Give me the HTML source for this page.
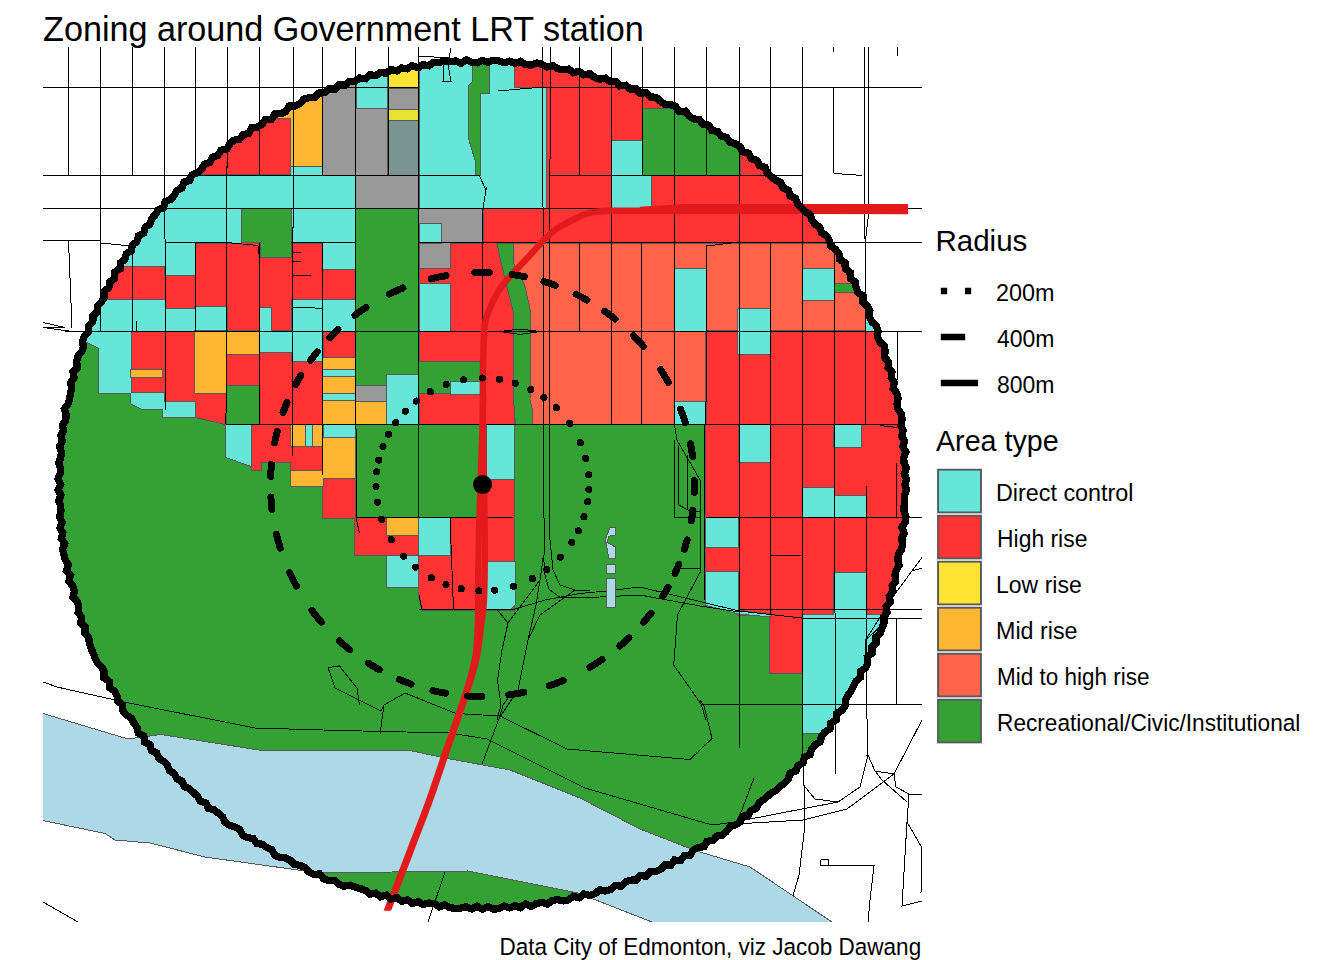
<!DOCTYPE html>
<html><head><meta charset="utf-8"><title>Zoning around Government LRT station</title>
<style>html,body{margin:0;padding:0;background:#fff}body{width:1344px;height:960px;overflow:hidden;font-family:"Liberation Sans",sans-serif}svg{display:block}</style></head><body>
<svg width="1344" height="960" viewBox="0 0 1344 960">
<defs>
<clipPath id="cc"><circle cx="482.5" cy="484.5" r="423.3"/></clipPath>
<clipPath id="pp"><rect x="43" y="47" width="879" height="875"/></clipPath>
<clipPath id="lc"><rect x="43" y="47" width="879" height="863.6"/></clipPath>
<path id="sDC" d="M40 208.25H164.5V266H40ZM165 243H194.5V275H165ZM40 300H164.5V331H40ZM164.5 309H195V331H164.5ZM195 307H226.5V331H195ZM260 308H271V331H260ZM292 300H322.5V331H292ZM323 243H354.5V268.5H323ZM323 300H354.5V331H323ZM40 175H354.5V208.25H40ZM165 208.25H241V242.5H165ZM292 208.25H354.5V242.5H292ZM291 165.5H322.5V175H291ZM40 331L99 331L99 348L85 341L40 341ZM99 331H130.5V393H99ZM130.5 393L164 393L164 408.5L141 408.5L130.5 403ZM162.5 402H194.5V417H162.5ZM260 331H292V352H260ZM292 331H322.5V361H292ZM323 369H354.5V377H323ZM323 393H354.5V401H323ZM226 424.5L251 424.5L251 466L226 457ZM305 424.5H312V446H305ZM323 424.5H354.5V438H323ZM387 374.5H418V424H387ZM450.5 381.5H480V394H450.5ZM419.5 284H450V331H419.5ZM420 223.5H440.5V242.5H420ZM419 50L514 50L514 87.5L546 87.5L546 208.25L419 208.25ZM355.5 50H388V87.5H355.5ZM355.5 87.5H386.5V109H355.5ZM612 141H642V175H612ZM612 176H650.5V207.5H612ZM675 268.5H706V331H675ZM737.5 308.5H769.5V353.5H737.5ZM802.5 268.5H834V300H802.5ZM866 312H885V331H866ZM675 401.5H705.5V424H675ZM739 424.5H769.5V462H739ZM833.75 424.5H860.5V447H833.75ZM802.5 487.5H833.75V517H802.5ZM833.75 495.5H866V517H833.75ZM487 424.5H514V478.5H487ZM386.75 556H418V587H386.75ZM419 518H450V555H419ZM485 561.5L515 561.5L515 604L511 609L485 609ZM706 518H737.5V547H706ZM706 571.5L737.5 571.5L737.5 613L706 603ZM833.75 572.5H866V615H833.75ZM706 603L739 611L770 614.5L770 616.5L739 613.5L706 605ZM802.5 614.5H930V733H802.5Z"/>
<path id="sHR" d="M195 90H291V175H195ZM40 266H164.5V300H40ZM165 275H194.5V309H165ZM195 243H226.5V307H195ZM227 243H259.5V331H227ZM260 258H291.5V331H260ZM292 243H322.5V300H292ZM323 268.5H354.5V300.5H323ZM130.5 331H164.5V393H130.5ZM164.5 331H194.5V402H164.5ZM195 393L225.5 393L225.5 424L195 417ZM227 353.5H259V385H227ZM260 352H292V424H260ZM292 361H322.5V424H292ZM323 331H354.5V358H323ZM251 424.5L291 424.5L291 462L260.5 462L260.5 470L252 470L251 466ZM291 446H322.5V470H291ZM323 478H354.5V517.5H323ZM354.5 518H418.5V555H354.5ZM419 518L514 518L514 609.5L422 609.5L419 595ZM487 478.5H514V561H487ZM419.5 268H449.5V284H419.5ZM450 243H513V331H450ZM419.5 331H482V361H419.5ZM482 331H514V424H482ZM419.5 394H482V424H419.5ZM514 50H546V87.5H514ZM546 50H642.5V175H546ZM642.5 50H930V109H642.5ZM739.5 50H930V175H739.5ZM546 175H930V208.25H546ZM482.5 208.25H930V242.5H482.5ZM706 331H930V424.25H706ZM705.5 424.25H930V517.5H705.5ZM738 517.5H930V614.5H738ZM706 547H737.5V571.5H706ZM770 615H801.5V673H770Z"/>
<path id="sMR" d="M291 90H322.5V165.5H291ZM272 100H291V117.5H272ZM130.5 369.5H162V377H130.5ZM195 331H225.5V393H195ZM226 331H259V353.5H226ZM323 358H354.5V369H323ZM323 377H354.5V393H323ZM323 401H386V424H323ZM291 424.5H304.5V446H291ZM312.5 424.5H322.5V446H312.5ZM291 470.5H322.5V486H291ZM323 438H354.5V478H323ZM386.75 518H418V535H386.75Z"/>
<path id="sMH" d="M512.5 243H930V331H512.5ZM514 331H706V424.25H514Z"/>
<path id="sRC" d="M472.5 50L488.75 50L488.75 93L480 93L480 175L476.25 175L476.25 162.5L468.75 137.5L468.75 86L472.5 82ZM497.5 243.5L512.5 243.5L512.5 262L524 285L530.5 313L529.5 400L532 410L532 424.25L516 424.25L514 400L514 313L507 285L501 260ZM834.5 284H860V292H834.5Z"/>
<path id="sNA" d="M323 50H355.5V175H323ZM355.5 109H388V175H355.5ZM388 88H418.5V110H388ZM355.5 175H418.5V208.25H355.5ZM419 208.5H482.5V242.5H419ZM419.5 243H449.5V268H419.5ZM355.5 385.5H386V401H355.5Z"/>
<path id="sLR" d="M388 60H418.5V87.5H388Z"/>
<path id="sYG" d="M388 110H418.5V121H388Z"/>
<path id="sGT" d="M388 121H418.5V175H388Z"/>
<path id="sRL" d="M642.5 109H674.5V175H642.5ZM674.5 119H739.5V175H674.5ZM674.5 112L690 119L674.5 119Z"/>
<path id="sDL" d="M420 223.5H440.5V242.5H420Z"/>
</defs>
<rect width="1344" height="960" fill="#fff"/>
<g clip-path="url(#pp)" shape-rendering="crispEdges">
<path d="M30 709.5L43 713.5L128 739L142 737L161 734.5L265 751L337 750.5L410 750.5L445 758L510 770L580 798L640 829L690 848.5L700 852L750 867L832 922L847 932L677 932L652 922L578 893L468 871L355 872.5L320 873L305 871L205 857L150 843L115 840L105 833.5L43 820.5L30 818Z" fill="#ADD8E6" stroke="#595959" stroke-width="1"/>
</g>
<g clip-path="url(#cc)" shape-rendering="crispEdges">
<path d="M0 0L1000 0L1000 940L847 932L832 922L750 867L700 852L690 848.5L640 829L580 798L510 770L445 758L410 750.5L337 750.5L265 751L161 734.5L142 737L128 739L43 713.5L30 709.5L0 700Z" fill="#33A133" stroke="#595959" stroke-width="1"/>
<path d="M300 873L320 873L355 872.5L468 871L578 893L652 922L652 960L300 960Z" fill="#33A133" stroke="#595959" stroke-width="1"/>
<use href="#sMH" fill="#FF634A" stroke="#595959" stroke-width="2"/>
<use href="#sMH" fill="#FF634A"/>
<use href="#sHR" fill="#FF3333" stroke="#595959" stroke-width="2"/>
<use href="#sHR" fill="#FF3333"/>
<use href="#sRL" fill="#33A133" stroke="#595959" stroke-width="2"/>
<use href="#sRL" fill="#33A133"/>
<use href="#sDC" fill="#66E6D9" stroke="#595959" stroke-width="2"/>
<use href="#sDC" fill="#66E6D9"/>
<use href="#sMR" fill="#FFB733" stroke="#595959" stroke-width="2"/>
<use href="#sMR" fill="#FFB733"/>
<use href="#sNA" fill="#999999" stroke="#595959" stroke-width="2"/>
<use href="#sNA" fill="#999999"/>
<use href="#sDL" fill="#66E6D9" stroke="#595959" stroke-width="2"/>
<use href="#sDL" fill="#66E6D9"/>
<use href="#sLR" fill="#FFE333" stroke="#595959" stroke-width="2"/>
<use href="#sLR" fill="#FFE333"/>
<use href="#sYG" fill="#E6E133" stroke="#595959" stroke-width="2"/>
<use href="#sYG" fill="#E6E133"/>
<use href="#sGT" fill="#7A9491" stroke="#595959" stroke-width="2"/>
<use href="#sGT" fill="#7A9491"/>
<use href="#sRC" fill="#33A133" stroke="#595959" stroke-width="2"/>
<use href="#sRC" fill="#33A133"/>
</g>
<g clip-path="url(#pp)" shape-rendering="crispEdges" stroke="#000" stroke-width="1" fill="none">
<path d="M68.5 47L68.5 174.5M100.5 47L100.5 331M132.5 47L132.5 174.5M132.5 245L132.5 331M164.5 47L165.47 410M195.5 47L195.5 175M195.5 243L195.5 331M227.5 47L225.98 424M259.5 47L259.5 175M259.5 243L259.5 424M293.5 47L292.4 456M322.5 47L322.5 175M322.5 243L322.5 475M355.5 47L356.13 517.5M388.5 47L388.5 175M418.5 47L418.5 517.5M482.5 208.5L482.5 331M542.5 47L544.13 555M579.5 47L579.5 175M579.5 242.5L579.5 331M611.5 47L611.5 424M642.5 47L642.09 175M641.87 242.5L641.29 424M674.8 47L674.29 424M706.5 47L706.33 175M706.23 246L705.99 424M739.5 47L739.5 748M770.5 47L770.5 175M770.5 242.5L770.5 615M802.5 47L802.5 765M833.5 47L833.51 52.5M833.61 88.5L833.84 173.5M834.02 242.5L835.45 774.5M864.5 47L865.51 424M868.5 47L868.5 215M897.5 47L897.5 56M897.5 331L897.5 380M896.5 462.5L896.5 517.5M896.5 618.5L896.5 704.5M43 87.5H418.5M543 87.5H922M43 175.5H479M550 175.5H803M43 208.5H922M164.5 242.5H226M291 242.5H355.5M418.5 242.5H922M43 240.5H100M65 331.5H922M225.5 424.5H897.5M356 517.5H513M706 517.5H922M419 609.5H515M739 609.5H922M802.5 618.5H922M702.5 704.5H922M68.5 240.5L72 328M100.5 243L131 246M550.5 47L550.5 120L549.5 200L549.5 535M226 242.5L232 243L258 245.5L259.5 258M292.5 307L308 307.5L322.5 308.5M500 331.5L520 329L540 331.5L520 334.5L500 331.5M136.5 320.5L136.5 331M43 322.5L65 327.5L43 327.5L65 330.5L72 331.5M834.5 173.5L862.5 175.5M292.5 252.5L301 252.5M292.5 261.5L301 261.5M292.5 275.5L311 275.5M868.5 215L866 236L865.5 250M706.5 246L735 242.5M866 486L866.5 700L868 755M897.5 424.5L897 427.5L880 425.5M419 56L449 58L451 48M444 65L443 81L451 81L448 65M498 91L543 87M479 175L486 190L483 208M486 190L487 187M543.5 555L540 580L508 623L497 609.5M508 623L502 650L497.5 680L501 705L497 720M549.5 535L553 570L560 585L575 590L590 590.5M515 609L545 600L580 593.5L606 591L640 587L706 603L739 611L802 618M560 598L600 597L640 595L700 606L739 612M543.5 555L545 575L549 589L560 597.5M540 580L536 605L528 640L518 690L500 717M575 590L540 615L528 640M340 667L357 688L359.5 705M328 667.5L339.5 666L357.5 688.75M328 667.5L335 688L381 711L384 705L405 693L456 713.5L500 716L567 749L690 759.5L712 738.5L704 706L700 700M384 705L380 734M500 716L503 705L508 698M500 716L482 764M43 682L57 687L124 702L255 728L340 730.5L450 733L487 739L585 788L712 825L735 822M754 778L740 815M445 872L428 922M43 902L78 922M356 517.5L359.5 533M419 595L422 609.5M450 518L453.5 609.5M674.5 424.5L677 440L700 480L700 572.5L677.5 615L673.75 665L701 704L706 720M677.5 568L699.5 568M674.5 440L675 517.5L700 517.5M678.75 445L678.75 505L690 511L700 511M687.5 455L687.5 510M704.5 424.5L704.5 600M770.5 555L801 556M865.5 755L868 755L860 787L838 802L815 799L803.5 785M803.5 765L805 825L799 875L793 896M740 821L838 802M735 824L803 820L847 809L894 774L922 720M868 755L875 771L894 774L896 787L909 794L922 794M875 771L882 780L907 802M909 794L907 822L902 906L922 901M907 822L921.5 847L921 893M820.5 859.5L828.5 859.5L828.5 865.5L820.5 865.5L820.5 859.5M828.5 865.5L874 866L870 900L868 922M922 557.5L896 592.5L865.5 640L866 660M922 568L912 571M888 619L866 640"/>
</g>
<g clip-path="url(#cc)" shape-rendering="crispEdges">
<path d="M610 527.5L615.75 527.5L615 535L608.75 536.25L607 542.5L615.5 547L615.5 558.75L608.75 558.75L606.25 543.75L605 540ZM606 564H615.5V573H606ZM606 578.75H615.5V607.5H606Z" fill="#ADD8E6" stroke="#595959" stroke-width="1"/>
</g>
<g fill="none" stroke="#E31A1C" clip-path="url(#lc)">
<path d="M908 211C838.67 210.93 769.33 210.83 700 210.8C673.33 210.79 646.67 210.64 620 210.8C614.37 210.83 608.72 210.61 603.1 211C599.97 211.22 596.84 211.62 593.75 212.2C590.59 212.79 587.43 213.45 584.4 214.5C581.15 215.62 578.10 217.25 575 218.75C571.83 220.29 568.69 221.90 565.6 223.6C562.43 225.35 559.20 227.01 556.25 229.1C552.92 231.46 549.87 234.20 546.9 237C543.59 240.12 540.60 243.57 537.5 246.9C534.33 250.30 531.27 253.80 528.1 257.2C525.02 260.50 521.83 263.69 518.75 267C515.59 270.39 512.47 273.83 509.4 277.3C506.86 280.17 504.15 282.90 501.9 286C499.49 289.31 497.45 292.89 495.5 296.5C493.58 300.07 491.88 303.77 490.3 307.5C488.56 311.60 486.62 315.67 485.6 320C484.40 325.09 484.27 330.38 484 335.6C479.50 423.62 487.66 511.94 484 600C483.83 604.01 483.44 608.01 483 612C482.41 617.35 481.51 622.66 480.8 628C479.60 637.00 479.06 646.10 477.3 655C475.63 663.46 473.05 671.73 470.6 680C468.12 688.40 465.28 696.69 462.5 705C457.47 720.05 452.14 734.99 447 750C441.30 766.66 435.96 783.44 430 800C423.96 816.78 417.36 833.34 411 850C403.36 870.01 395.64 889.99 388 910C386.73 913.33 385.47 916.67 384.2 920" stroke-width="6.4" stroke-linejoin="round"/>
<path d="M908 207.3 L683 207.3 L640 210" stroke-width="6.4" stroke-linejoin="round"/>
<path d="M483.5 395C482.83 413.33 482.14 431.67 481.5 450C480.63 475.00 479.67 500.00 479 525C478.56 541.66 478.17 558.33 478 575C477.88 586.67 478.16 598.33 478 610C477.92 616.00 477.81 622.01 477.5 628C477.04 637.01 476.89 646.08 475.5 655C474.18 663.47 471.79 671.74 469.5 680C467.16 688.42 464.35 696.70 461.6 705C456.61 720.07 451.16 734.98 446 750C440.28 766.65 434.96 783.44 429 800C422.96 816.78 416.36 833.34 410 850C402.36 870.01 394.64 889.99 387 910C385.73 913.33 384.47 916.67 383.2 920" stroke-width="6" stroke-linejoin="round"/>
</g>
<g fill="none" stroke="#000">
<path d="M904.95 484.5L906.54 489.92L904.6 495.28L904.28 500.67L904.12 506.06L904.15 511.46L906.08 517.02L905.03 522.37L901.95 527.5L904.1 533.17L901.61 538.32L902.61 543.91L901.65 549.24L898.48 554.2L897.79 559.55L899.11 565.3L896.25 570.24L894.98 575.48L895.76 581.21L892.15 585.9L893.03 591.7L889.32 596.3L890.43 602.22L886.16 606.6L887.01 612.52L883.63 617.1L884.06 622.96L882.0 627.98L880.31 633.14L875.91 637.25L876.05 643.12L871.86 647.24L872.0 653.17L867.26 656.99L867.76 663.15L865.48 668.07L860.33 671.58L860.29 677.6L855.72 681.31L853.35 686.16L851.05 691.05L847.82 695.42L845.54 700.33L844.9 706.26L841.69 710.65L836.47 713.73L836.14 719.98L830.89 722.96L830.03 728.94L824.9 731.94L821.65 736.24L820.09 741.83L815.08 744.8L811.61 748.93L810.05 754.63L804.54 757.07L803.08 762.94L797.95 765.63L795.99 771.14L790.13 773.09L788.29 778.79L784.67 782.84L780.44 786.27L776.63 790.12L771.6 792.67L767.57 796.27L763.42 799.72L759.04 802.9L756.52 808.25L751.16 810.26L748.14 815.13L742.35 816.51L739.83 822.09L735.27 825.04L729.87 826.81L726.53 831.43L722.52 835.17L716.64 836.13L712.99 840.41L707.14 841.29L704.17 846.75L698.27 847.44L693.41 849.81L690.17 855.05L684.28 855.56L680.74 860.42L674.47 860.08L670.97 865.14L664.94 865.12L660.88 869.18L656.06 871.66L650.16 871.66L646.18 876.12L640.11 875.55L636.1 880.09L630.33 880.16L625.28 882.03L621.01 886.19L614.99 885.29L610.67 889.5L605.45 890.97L599.46 889.78L594.98 893.8L589.82 895.51L583.85 893.94L579.2 897.73L573.32 896.26L568.57 899.85L563.25 900.89L557.51 899.57L552.2 900.47L547.32 904.18L541.59 902.39L536.32 903.64L531.2 906.35L525.5 903.97L520.43 907.68L514.83 905.65L509.57 907.93L504.05 905.96L498.76 908.61L493.35 909.27L487.89 906.61L482.5 909.4L477.11 906.15L471.66 908.89L466.31 906.77L460.84 908.13L455.39 908.43L450.01 907.73L444.82 904.86L439.2 906.8L434.12 903.53L428.75 903.1L423.09 904.6L418.07 901.65L412.31 903.42L407.42 899.93L401.68 901.24L396.89 897.63L391.06 899.07L386.42 895.07L380.42 896.93L375.8 893.14L369.9 894.25L365.36 890.4L360.28 888.58L355.07 887.18L350.07 885.11L344.0 886.19L338.94 884.22L334.64 880.24L328.69 880.65L323.65 878.64L319.72 873.96L313.68 874.35L308.88 871.8L304.86 867.58L299.97 865.3L294.35 864.49L290.36 860.4L285.53 858.01L279.7 857.44L274.72 855.23L271.69 849.64L266.68 847.53L262.33 844.3L256.52 843.41L253.28 838.45L247.36 837.63L242.49 835.15L239.77 829.58L235.01 826.98L229.53 825.3L224.89 822.45L222.53 816.66L218.35 813.27L214.17 809.87L208.36 808.4L205.99 802.86L200.32 801.14L197.49 796.2L193.48 792.59L189.6 788.85L184.39 786.44L181.98 781.21L176.87 778.64L174.3 773.62L169.58 770.63L167.42 765.3L163.8 761.3L158.78 758.49L156.8 753.1L151.32 750.59L150.11 744.65L144.51 742.14L143.83 735.88L138.33 733.22L137.13 727.43L133.87 723.12L131.36 718.31L126.47 715.06L122.98 710.86L122.61 704.73L117.83 701.3L116.92 695.57L114.24 690.89L109.17 687.51L109.18 681.37L104.1 677.91L104.1 671.86L101.76 667.0L97.39 663.08L95.14 658.15L93.17 653.1L90.93 648.16L89.22 643.01L88.77 637.37L84.82 633.09L85.39 627.12L80.83 623.0L81.57 617.04L78.12 612.47L78.61 606.67L77.27 601.44L73.05 597.02L74.4 591.06L72.79 585.91L68.84 581.3L70.63 575.35L66.45 570.72L68.31 564.83L65.23 559.91L63.97 554.63L62.64 549.35L64.68 543.58L61.28 538.59L62.69 532.96L59.97 527.82L62.12 522.18L59.68 516.96L61.01 511.45L60.72 506.06L58.61 500.75L61.01 495.27L58.15 489.92L60.58 484.5L57.92 479.08L60.12 473.71L60.46 468.32L58.75 462.83L60.77 457.53L61.41 452.17L59.5 446.59L62.39 441.43L60.84 435.82L63.46 430.69L62.48 425.11L65.78 420.13L66.16 414.74L64.31 408.92L67.89 404.09L69.62 398.94L70.39 393.6L71.53 388.33L70.79 382.59L74.1 377.86L72.98 371.96L77.33 367.57L76.64 361.74L77.79 356.42L81.54 351.95L83.31 346.86L82.67 340.9L84.62 335.83L88.66 331.59L88.58 325.74L92.85 321.64L93.05 315.85L97.41 311.87L97.46 305.95L101.46 301.86L104.53 297.35L104.13 291.1L108.93 287.5L109.84 281.86L114.68 278.36L114.6 272.09L120.03 269.01L120.37 262.9L124.92 259.36L126.23 253.78L131.28 250.63L132.57 244.99L136.95 241.44L138.56 235.95L143.76 233.06L145.09 227.3L149.95 224.22L151.66 218.69L155.26 214.63L158.17 209.99L163.61 207.53L165.22 201.74L170.73 199.42L174.36 195.43L176.93 190.42L181.96 187.77L183.98 182.15L189.74 180.3L192.05 174.89L197.56 172.87L201.52 169.21L204.38 164.29L209.89 162.41L212.6 157.22L217.97 155.26L220.9 150.25L226.82 149.08L229.77 144.02L233.74 140.27L239.64 139.23L243.01 134.61L248.79 133.52L251.56 127.89L257.47 127.09L262.0 124.17L265.48 119.46L271.56 119.14L274.83 113.96L280.88 113.73L285.74 111.38L289.11 106.14L295.12 106.05L299.94 103.64L303.83 99.21L309.03 97.53L314.8 97.23L318.91 93.09L324.53 92.55L328.87 88.82L334.81 89.23L339.02 85.01L344.83 85.22L349.2 81.26L355.0 81.62L359.55 78.01L365.4 78.72L369.9 74.76L375.74 75.64L380.52 72.51L386.25 73.21L391.01 69.73L396.79 70.89L401.71 67.95L407.39 68.86L412.31 65.58L418.14 67.79L423.11 64.49L428.73 65.76L433.77 62.36L439.22 62.32L444.56 61.22L450.04 61.69L455.42 60.97L460.97 63.33L466.22 59.81L471.72 62.37L477.12 62.87L482.5 60.47L487.89 62.31L493.34 60.31L498.74 60.81L504.06 62.8L509.56 61.24L514.83 63.35L520.43 61.37L525.56 64.53L530.91 65.16L536.62 63.04L541.92 64.32L547.0 66.88L552.7 65.53L557.65 68.68L562.95 69.69L568.59 69.07L573.33 72.7L579.17 71.39L583.89 74.88L589.8 73.56L594.41 77.27L599.47 79.2L605.44 78.05L610.0 81.62L615.73 81.48L619.94 85.88L625.9 85.22L630.24 89.09L636.03 89.08L640.2 93.22L646.31 92.58L650.3 97.0L656.09 97.27L660.25 101.19L664.84 104.1L670.67 104.47L675.73 106.47L679.17 111.56L685.53 111.14L689.07 115.92L693.55 118.95L699.4 119.66L702.86 124.39L708.77 125.12L711.75 130.5L717.57 131.48L721.03 136.01L726.65 137.39L729.91 142.14L735.36 143.84L740.08 146.59L742.76 151.97L748.69 153.2L751.23 158.65L756.84 160.36L759.55 165.52L765.14 167.35L767.06 173.3L771.43 176.5L775.41 180.14L780.8 182.36L782.96 187.85L788.32 190.17L790.14 195.9L795.49 198.31L797.53 203.75L801.28 207.63L804.92 211.61L810.07 214.35L811.78 219.94L815.03 224.24L819.85 227.35L821.67 232.74L826.6 235.83L829.38 240.51L830.78 246.12L835.49 249.45L838.97 253.65L839.88 259.49L844.97 262.69L845.27 268.83L850.06 272.29L850.28 278.38L855.16 281.85L856.13 287.47L857.99 292.57L863.21 296.0L862.79 302.22L867.3 306.06L869.9 310.83L869.47 316.93L871.84 321.77L876.23 325.81L878.02 330.93L877.5 336.91L879.76 341.82L884.26 345.97L885.19 351.38L884.48 357.29L888.39 361.73L888.16 367.43L891.94 371.98L891.24 377.77L894.3 382.57L893.16 388.4L896.73 393.13L898.07 398.38L896.99 404.11L898.12 409.39L901.56 414.28L902.09 419.69L900.9 425.33L903.16 430.48L901.77 436.1L904.59 441.23L902.83 446.82L905.91 451.99L903.8 457.56L903.93 462.95L906.42 468.25L904.18 473.73L906.64 479.08Z" stroke-width="7.3" stroke-linejoin="miter" shape-rendering="crispEdges"/>
<path d="M474.80 272.64A212.0 212.0 0 0 1 489.19 272.61M512.07 274.57A212.0 212.0 0 0 1 524.28 276.66M543.90 281.59A212.0 212.0 0 0 1 555.37 285.42M576.05 294.26A212.0 212.0 0 0 1 586.93 300.01M604.65 311.22A212.0 212.0 0 0 1 615.05 319.05M633.45 335.64A212.0 212.0 0 0 1 643.47 346.55M660.62 369.53A212.0 212.0 0 0 1 668.30 382.41M680.64 409.11A212.0 212.0 0 0 1 685.27 422.63M690.54 443.73A212.0 212.0 0 0 1 692.64 456.49M694.46 480.52A212.0 212.0 0 0 1 694.36 492.32M692.94 510.14A212.0 212.0 0 0 1 691.39 520.66M687.16 539.82A212.0 212.0 0 0 1 684.31 549.44M678.92 564.27A212.0 212.0 0 0 1 674.94 573.44M667.98 587.16A212.0 212.0 0 0 1 662.77 596.06M651.00 613.15A212.0 212.0 0 0 1 643.63 622.27M628.98 637.75A212.0 212.0 0 0 1 619.75 646.08M602.05 659.58A212.0 212.0 0 0 1 589.88 667.29M563.37 680.47A212.0 212.0 0 0 1 549.32 685.70M523.53 692.49A212.0 212.0 0 0 1 508.73 694.87M481.64 696.50A212.0 212.0 0 0 1 467.71 695.98M445.42 693.23A212.0 212.0 0 0 1 432.86 690.61M411.09 684.11A212.0 212.0 0 0 1 399.31 679.50M379.46 669.77A212.0 212.0 0 0 1 368.45 663.21M349.74 649.78A212.0 212.0 0 0 1 339.27 640.80M321.28 622.17A212.0 212.0 0 0 1 311.95 610.42M296.44 586.12A212.0 212.0 0 0 1 289.73 572.72M280.27 548.11A212.0 212.0 0 0 1 276.43 534.31M272.01 509.76A212.0 212.0 0 0 1 270.87 496.95M270.65 476.48A212.0 212.0 0 0 1 271.45 464.48M274.67 442.65A212.0 212.0 0 0 1 277.28 431.30M283.03 412.68A212.0 212.0 0 0 1 287.05 402.39M295.51 384.61A212.0 212.0 0 0 1 300.77 375.33M310.73 360.24A212.0 212.0 0 0 1 317.16 351.81M329.70 337.54A212.0 212.0 0 0 1 338.01 329.36M354.86 315.23A212.0 212.0 0 0 1 366.01 307.37M389.28 294.09A212.0 212.0 0 0 1 402.98 287.98M431.38 278.76A212.0 212.0 0 0 1 446.05 275.66" stroke-width="7" stroke-linecap="round" shape-rendering="crispEdges"/>
</g>
<g fill="#000" shape-rendering="crispEdges"><circle cx="482.50" cy="378.00" r="3.6"/><circle cx="499.52" cy="379.37" r="3.6"/><circle cx="515.12" cy="383.12" r="3.6"/><circle cx="530.83" cy="389.60" r="3.6"/><circle cx="543.93" cy="397.50" r="3.6"/><circle cx="556.29" cy="407.71" r="3.6"/><circle cx="569.69" cy="423.34" r="3.6"/><circle cx="580.40" cy="442.58" r="3.6"/><circle cx="585.73" cy="458.31" r="3.6"/><circle cx="588.55" cy="474.68" r="3.6"/><circle cx="588.88" cy="489.49" r="3.6"/><circle cx="587.61" cy="501.68" r="3.6"/><circle cx="584.00" cy="516.74" r="3.6"/><circle cx="578.45" cy="530.71" r="3.6"/><circle cx="571.88" cy="542.41" r="3.6"/><circle cx="560.29" cy="557.24" r="3.6"/><circle cx="546.88" cy="569.34" r="3.6"/><circle cx="532.43" cy="578.57" r="3.6"/><circle cx="513.52" cy="586.38" r="3.6"/><circle cx="494.56" cy="590.31" r="3.6"/><circle cx="478.96" cy="590.94" r="3.6"/><circle cx="461.17" cy="588.84" r="3.6"/><circle cx="446.04" cy="584.57" r="3.6"/><circle cx="431.25" cy="577.86" r="3.6"/><circle cx="415.51" cy="567.29" r="3.6"/><circle cx="403.65" cy="556.09" r="3.6"/><circle cx="391.40" cy="539.67" r="3.6"/><circle cx="381.82" cy="519.23" r="3.6"/><circle cx="377.47" cy="502.13" r="3.6"/><circle cx="376.02" cy="486.51" r="3.6"/><circle cx="376.75" cy="471.91" r="3.6"/><circle cx="378.83" cy="460.09" r="3.6"/><circle cx="383.04" cy="446.42" r="3.6"/><circle cx="388.53" cy="434.38" r="3.6"/><circle cx="395.75" cy="422.72" r="3.6"/><circle cx="405.34" cy="411.09" r="3.6"/><circle cx="416.31" cy="401.07" r="3.6"/><circle cx="430.39" cy="391.62" r="3.6"/><circle cx="446.20" cy="384.38" r="3.6"/><circle cx="463.56" cy="379.70" r="3.6"/></g>
<circle cx="482.5" cy="484.5" r="9.5" fill="#000"/>
<text transform="translate(43.03 40.75) scale(0.9763 1)" font-size="35.0" text-anchor="start" font-family="Liberation Sans, sans-serif" fill="#000">Zoning around Government LRT station</text>
<text transform="translate(499.45 955.1) scale(0.9665 1)" font-size="23.3" text-anchor="start" font-family="Liberation Sans, sans-serif" fill="#000">Data City of Edmonton, viz Jacob Dawang</text>
<text transform="translate(935.38 250.6) scale(1.0053 1)" font-size="29.4" text-anchor="start" font-family="Liberation Sans, sans-serif" fill="#000">Radius</text>
<text transform="translate(936.0 450.6) scale(0.974 1)" font-size="29.4" text-anchor="start" font-family="Liberation Sans, sans-serif" fill="#000">Area type</text>
<text transform="translate(995.99 300.5) scale(1.0046 1)" font-size="23.3" text-anchor="start" font-family="Liberation Sans, sans-serif" fill="#000">200m</text>
<text transform="translate(997.0 346.5) scale(0.987 1)" font-size="23.3" text-anchor="start" font-family="Liberation Sans, sans-serif" fill="#000">400m</text>
<text transform="translate(997.01 392.5) scale(0.9867 1)" font-size="23.3" text-anchor="start" font-family="Liberation Sans, sans-serif" fill="#000">800m</text>
<text transform="translate(995.99 500.5) scale(1.0019 1)" font-size="23.3" text-anchor="start" font-family="Liberation Sans, sans-serif" fill="#000">Direct control</text>
<text transform="translate(997.04 546.5) scale(0.9832 1)" font-size="23.3" text-anchor="start" font-family="Liberation Sans, sans-serif" fill="#000">High rise</text>
<text transform="translate(996.02 592.5) scale(0.9881 1)" font-size="23.3" text-anchor="start" font-family="Liberation Sans, sans-serif" fill="#000">Low rise</text>
<text transform="translate(995.99 638.5) scale(1.0002 1)" font-size="23.3" text-anchor="start" font-family="Liberation Sans, sans-serif" fill="#000">Mid rise</text>
<text transform="translate(997.06 684.5) scale(0.9661 1)" font-size="23.3" text-anchor="start" font-family="Liberation Sans, sans-serif" fill="#000">Mid to high rise</text>
<text transform="translate(997.05 730.6) scale(0.9723 1)" font-size="23.3" text-anchor="start" font-family="Liberation Sans, sans-serif" fill="#000">Recreational/Civic/Institutional</text>
<g stroke="#000" stroke-width="6.5" fill="none">
<path d="M940.8 290.9H947.2M965 290.9H971.2"/>
<path d="M940.8 337H965.2"/>
<path d="M940.8 383H978.1"/>
</g>
<rect x="938.05" y="469.7" width="42.9" height="42.7" fill="#66E6D9" stroke="#595959" stroke-width="1.9"/>
<rect x="938.05" y="515.7" width="42.9" height="42.7" fill="#FF3333" stroke="#595959" stroke-width="1.9"/>
<rect x="938.05" y="561.7" width="42.9" height="42.7" fill="#FFE333" stroke="#595959" stroke-width="1.9"/>
<rect x="938.05" y="607.7" width="42.9" height="42.7" fill="#FFB733" stroke="#595959" stroke-width="1.9"/>
<rect x="938.05" y="653.7" width="42.9" height="42.7" fill="#FF634A" stroke="#595959" stroke-width="1.9"/>
<rect x="938.05" y="699.7" width="42.9" height="42.7" fill="#33A133" stroke="#595959" stroke-width="1.9"/>
</svg></body></html>
